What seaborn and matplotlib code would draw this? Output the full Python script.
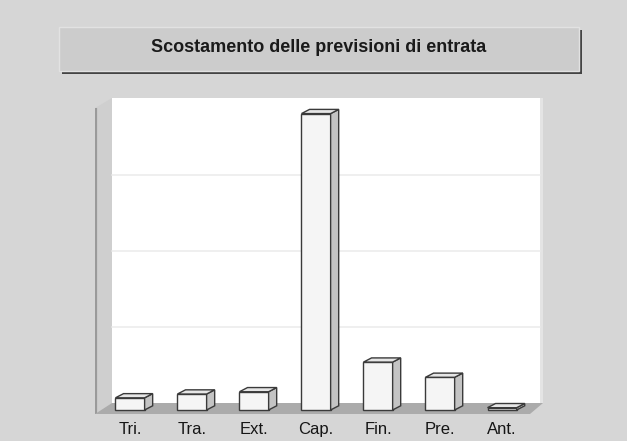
import matplotlib
matplotlib.use("Agg")
import matplotlib.pyplot as plt
import seaborn as sns
import pandas as pd
from matplotlib.patches import Polygon, Rectangle

categories = ["Tri.", "Tra.", "Ext.", "Cap.", "Fin.", "Pre.", "Ant."]
values = [0.16, 0.21, 0.24, 3.90, 0.63, 0.43, 0.03]
title = "Scostamento delle previsioni di entrata"

df = pd.DataFrame({"cat": categories, "val": values})

sns.set_theme(style="white")
plt.rcParams["font.family"] = ["Liberation Sans", "DejaVu Sans"]

W, H = 627, 441
BG = "#d6d6d6"
fig = plt.figure(figsize=(W / 100, H / 100), dpi=100, facecolor=BG)

# axes placed in pixel terms
L, R, T, B = 95, 543, 98, 414
ax = fig.add_axes([L / W, 1 - B / H, (R - L) / W, (B - T) / H])
ax.set_facecolor("none")

def axpt(px, py):
    return ((px - L) / (R - L), (B - py) / (B - T))

# 3D box: left wall, back wall, floor
back = Polygon([axpt(112, 403), axpt(112, 98), axpt(543, 98), axpt(543, 403)],
               closed=True, transform=ax.transAxes, facecolor="white",
               edgecolor="none", zorder=0)
ax.add_patch(back)
rshadow = Polygon([axpt(540, 98), axpt(544, 98), axpt(544, 403), axpt(540, 403)],
                  closed=True, transform=ax.transAxes, facecolor="#e4e4e4",
                  edgecolor="none", zorder=0.1)
ax.add_patch(rshadow)
lwall = Polygon([axpt(95, 414), axpt(95, 108), axpt(112, 98), axpt(112, 403)],
                closed=True, transform=ax.transAxes, facecolor="#cfcfcf",
                edgecolor="none", zorder=0.2)
ax.add_patch(lwall)
ax.plot(*zip(axpt(96, 414), axpt(96, 108)), transform=ax.transAxes,
        color="#9a9a9a", lw=1.6, zorder=0.3, solid_capstyle="butt")
floor = Polygon([axpt(95, 414), axpt(112, 403), axpt(543, 403), axpt(530, 414)],
                closed=True, transform=ax.transAxes, facecolor="#ababab",
                edgecolor="none", zorder=0.4)
ax.add_patch(floor)

# grid on back wall (in data units, shifted by back-wall offset)
back_off = 0.092
for k in [1, 2, 3]:
    ax.plot([axpt(112, 0)[0], axpt(540, 0)[0]], [k + back_off, k + back_off],
            transform=ax.get_yaxis_transform(), color="#ececec", lw=1.2, zorder=0.5)

n_before = len(ax.patches)
sns.barplot(data=df, x="cat", y="val", ax=ax, width=0.47, color="#f5f5f5",
            edgecolor="#3a3a3a", linewidth=1.0, saturation=1, zorder=2)
bars = list(ax.patches)[n_before:n_before + len(values)]

dx, dy = 0.13, 0.055
for p in bars:
    x0, w, h = p.get_x(), p.get_width(), p.get_height()
    side = Polygon([(x0 + w, 0), (x0 + w + dx, dy), (x0 + w + dx, h + dy), (x0 + w, h)],
                   closed=True, facecolor="#c4c4c4", edgecolor="#3a3a3a", lw=1.0, zorder=2)
    top = Polygon([(x0, h), (x0 + dx, h + dy), (x0 + w + dx, h + dy), (x0 + w, h)],
                  closed=True, facecolor="#e6e6e6", edgecolor="#3a3a3a", lw=1.0, zorder=2)
    ax.add_patch(side)
    ax.add_patch(top)

ax.set_xlim(-0.565, 6.66)
ax.set_ylim(-0.053, 4.105)
for s in ax.spines.values():
    s.set_visible(False)
ax.set_xlabel("")
ax.set_ylabel("")
ax.set_yticks([])
ax.tick_params(axis="x", length=0, pad=6, labelsize=12, labelcolor="#151515")

# title box
fig.patches.append(Rectangle(((62) / W, 1 - 74 / H), (582 - 62) / W, (74 - 30) / H,
                             transform=fig.transFigure, facecolor="#444444",
                             edgecolor="none", zorder=1))
fig.patches.append(Rectangle((59 / W, 1 - 71 / H), (579 - 59) / W, (71 - 27) / H,
                             transform=fig.transFigure, facecolor="#cccccc",
                             edgecolor="#e2e2e2", lw=1.0, zorder=2))
fig.text(319 / W, 1 - 48 / H, title, ha="center", va="center", fontsize=13,
         fontweight="bold", color="#1a1a1a", zorder=3)

fig.savefig("out.png", dpi=100, facecolor=BG)
